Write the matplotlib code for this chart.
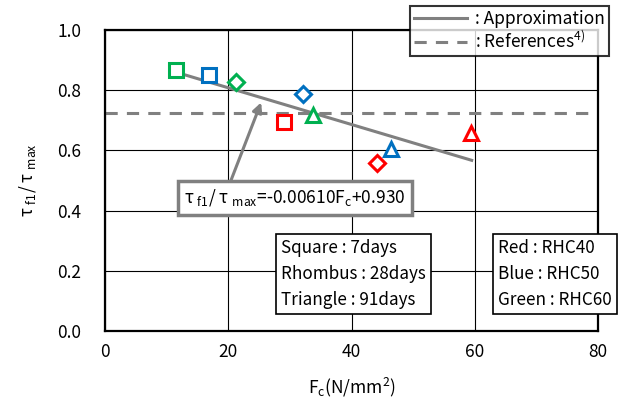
import numpy as np
import matplotlib
matplotlib.use("Agg")
import matplotlib.pyplot as plt
from matplotlib.lines import Line2D

plt.rcParams['font.family'] = ['Noto Sans CJK JP', 'DejaVu Sans']
plt.rcParams['mathtext.fontset'] = 'custom'
plt.rcParams['mathtext.rm'] = 'Noto Sans CJK JP'

# data
fc     = [11.5, 16.9, 29.0, 21.3, 32.1, 44.1, 33.7, 46.4, 59.4]
ratio  = [0.867, 0.850, 0.694, 0.827, 0.787, 0.558, 0.718, 0.605, 0.658]
shapes = ['s', 's', 's', 'D', 'D', 'D', '^', '^', '^']
cols   = ['green', 'blue', 'red', 'green', 'blue', 'red', 'green', 'blue', 'red']

fit_a, fit_b = -0.00610, 0.930
fit_x = [11.5, 59.5]
ref_y = 0.724

cmap = {'red': '#FF0000', 'blue': '#0070C0', 'green': '#00B050'}
gray = '#808080'

fig = plt.figure(figsize=(6.3, 4.01), dpi=100)
ax = fig.add_axes([0.1667, 0.1746, 0.7825, 0.7506])

ax.set_xlim(0, 80)
ax.set_ylim(0, 1.0)
ax.set_xticks([0, 20, 40, 60, 80])
ax.set_yticks(np.arange(0, 1.01, 0.2))
ax.set_yticklabels(["%.1f" % v for v in np.arange(0, 1.01, 0.2)])
ax.grid(color='black', lw=0.8, zorder=0)
ax.set_axisbelow(True)
for s in ax.spines.values():
    s.set_linewidth(1.6)
ax.tick_params(length=0, labelsize=12.5)
ax.tick_params(axis='y', pad=17)
ax.tick_params(axis='x', pad=9)

ax.axhline(ref_y, color=gray, lw=2.2, ls=(0, (4, 3)), zorder=2)
fx = np.array(fit_x)
ax.plot(fx, fit_a * fx + fit_b, color=gray, lw=2.2, zorder=2)

sizes = {'s': 10, 'D': 8, '^': 10}
for x, y, m, c in zip(fc, ratio, shapes, cols):
    ax.plot(x, y, marker=m, ms=sizes[m], mfc='white', mec=cmap[c], mew=2.2,
            ls='none', zorder=4)

# equation annotation
ax.annotate("", xy=(25.5, 0.768), xytext=(20.3, 0.493),
            arrowprops=dict(arrowstyle='-|>', color=gray, lw=2.2,
                            mutation_scale=14), zorder=5)
ax.text(30.8, 0.442, "τ $_{\\rm f1}$/ τ $_{\\rm max}$=-0.00610F$_{\\rm c}$+0.930",
        fontsize=12.5, ha='center', va='center', zorder=6,
        bbox=dict(boxstyle='square,pad=0.35', fc='white', ec=gray, lw=2.5))

ax.text(28.6, 0.305, "Square : 7days\nRhombus : 28days\nTriangle : 91days",
        fontsize=12.3, ha='left', va='top', linespacing=1.55, zorder=6,
        bbox=dict(boxstyle='square,pad=0.3', fc='white', ec='black', lw=1.2))
ax.text(63.8, 0.305, "Red : RHC40\nBlue : RHC50\nGreen : RHC60",
        fontsize=12.3, ha='left', va='top', linespacing=1.55, zorder=6,
        bbox=dict(boxstyle='square,pad=0.3', fc='white', ec='black', lw=1.2))

ax.set_xlabel("F$_{\\rm c}$(N/mm$^{\\rm 2}$)", fontsize=12.5, labelpad=10)
ax.set_ylabel("τ $_{\\rm f1}$/ τ $_{\\rm max}$", fontsize=12.5, labelpad=14)

handles = [Line2D([], [], color=gray, lw=2.2),
           Line2D([], [], color=gray, lw=2.2, ls=(0, (4, 3)))]
labels = [": Approximation", ": References$^{\\rm 4)}$"]
leg = fig.legend(handles, labels, loc='upper left', bbox_to_anchor=(0.651, 0.985),
                 bbox_transform=fig.transFigure, fontsize=12.5, frameon=True,
                 fancybox=False, edgecolor='black', handlelength=3.0,
                 labelspacing=0.1, borderpad=0.25, handletextpad=0.5,
                 borderaxespad=0)
leg.get_frame().set_linewidth(1.5)
leg.set_zorder(10)

fig.savefig("out.png", dpi=100)
